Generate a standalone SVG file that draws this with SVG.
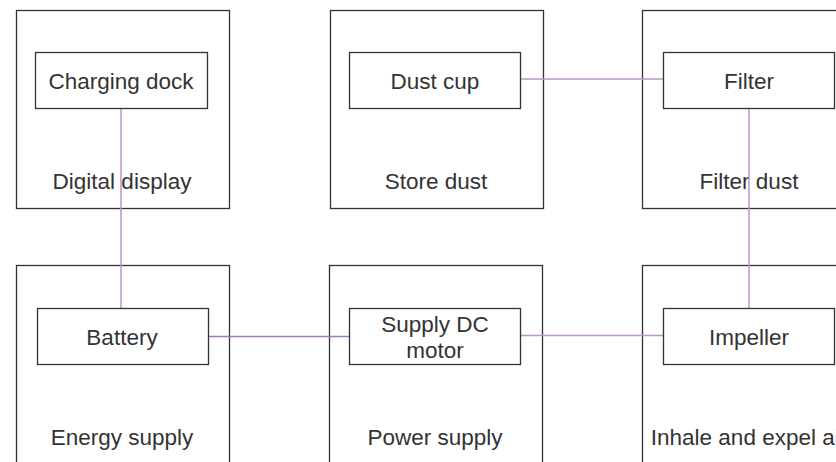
<svg xmlns="http://www.w3.org/2000/svg" width="836" height="462" viewBox="0 0 836 462">
<style>
.outer{fill:#fff;stroke:#333;stroke-width:1.3}
.inner{fill:#fff;stroke:#333;stroke-width:1.3}
.t{font-family:"Liberation Sans",Arial,sans-serif;font-size:22.5px;fill:#333;text-anchor:middle}
.c{fill:none;stroke:#b996cd;stroke-width:1.5}
</style>
<rect width="836" height="462" fill="#fff"/>
<g id="container-digital-display"><rect class="outer" x="16.5" y="10.5" width="213" height="198"/><text class="t" x="122" y="189">Digital display</text></g>
<g id="container-store-dust"><rect class="outer" x="330.5" y="10.5" width="213" height="198"/><text class="t" x="436" y="189">Store dust</text></g>
<g id="container-filter-dust"><rect class="outer" x="642.5" y="10.5" width="213" height="198"/><text class="t" x="749" y="189">Filter dust</text></g>
<g id="container-energy-supply"><rect class="outer" x="16.5" y="265.5" width="213" height="220"/><text class="t" x="122" y="445">Energy supply</text></g>
<g id="container-power-supply"><rect class="outer" x="329.5" y="265.5" width="213" height="220"/><text class="t" x="435" y="445">Power supply</text></g>
<g id="container-inhale"><rect class="outer" x="642.5" y="265.5" width="213" height="220"/><text class="t" x="749" y="445">Inhale and expel air</text></g>
<g id="connectors">
<line class="c" x1="121" y1="109" x2="121" y2="308"/>
<line class="c" x1="749" y1="109" x2="749" y2="308"/>
<line class="c" x1="520" y1="79" x2="663" y2="79"/>
<line class="c" x1="208" y1="336.5" x2="349" y2="336.5" style="stroke:#9f7bb3"/>
<line class="c" x1="520" y1="335.5" x2="663" y2="335.5"/>
</g>
<g id="node-charging-dock"><rect class="inner" x="35.5" y="52.5" width="172" height="56"/><text class="t" x="121" y="89">Charging dock</text></g>
<g id="node-dust-cup"><rect class="inner" x="349.5" y="52.5" width="171" height="56"/><text class="t" x="435" y="89">Dust cup</text></g>
<g id="node-filter"><rect class="inner" x="663.5" y="52.5" width="171" height="56"/><text class="t" x="749" y="89">Filter</text></g>
<g id="node-battery"><rect class="inner" x="37.5" y="308.5" width="171" height="56"/><text class="t" x="122" y="345">Battery</text></g>
<g id="node-supply-dc-motor"><rect class="inner" x="349.5" y="308.5" width="171" height="56"/><text class="t" x="435" y="332">Supply DC</text><text class="t" x="435" y="358">motor</text></g>
<g id="node-impeller"><rect class="inner" x="663.5" y="308.5" width="171" height="56"/><text class="t" x="749" y="345">Impeller</text></g>
</svg>
